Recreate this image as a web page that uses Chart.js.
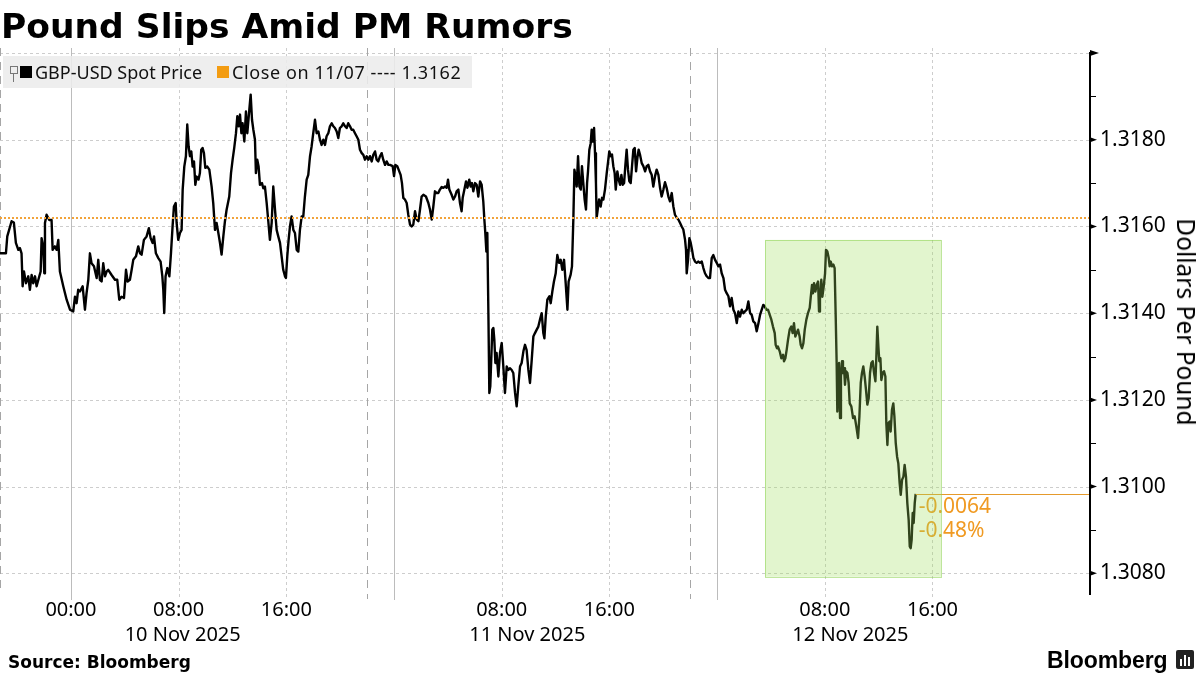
<!DOCTYPE html>
<html>
<head>
<meta charset="utf-8">
<script src="https://cdn.jsdelivr.net/npm/chart.js@4.4.1/dist/chart.umd.min.js"></script>
<style>
html,body{margin:0;padding:0;background:#fff;}
#wrap{position:relative;width:1200px;height:675px;overflow:hidden;background:#fff;}
#c{position:absolute;left:0;top:0;}
.t{position:absolute;white-space:nowrap;color:#000;}
#title{left:1px;top:9px;font:bold 34.5px "DejaVu Sans";line-height:34px;}
#legend{position:absolute;left:3px;top:56px;width:469px;height:32px;background:rgba(236,236,236,0.88);}
.sq{position:absolute;width:12px;height:12px;}
.lt{position:absolute;top:4px;font:18px "Noto Sans";line-height:24px;color:#111;white-space:nowrap;}
#source{left:8px;top:654px;font:bold 17px "DejaVu Sans";line-height:17px;}
#bbg{left:1047px;top:648px;font:bold 23px "Liberation Sans";line-height:24px;letter-spacing:-0.1px;}
#ytitle{left:1186px;top:322px;font:24.5px "Noto Sans";line-height:26px;transform:translate(-50%,-50%) rotate(90deg);}
</style>
</head>
<body>
<div id="wrap">
  <canvas id="c" width="1200" height="675"></canvas>
  <div class="t" id="title">Pound Slips Amid PM Rumors</div>
  <div id="legend">
    <div style="position:absolute;left:7px;top:10px;width:6px;height:6px;border:1px solid #777;"></div>
    <div style="position:absolute;left:10px;top:18px;width:1px;height:8px;background:#777;"></div>
    <div class="sq" style="left:17px;top:10px;background:#000;"></div>
    <div class="lt" style="left:32px;">GBP-USD Spot Price</div>
    <div class="sq" style="left:214px;top:10px;background:#f39c12;"></div>
    <div class="lt" style="left:229px;letter-spacing:0.6px;">Close on 11/07 ---- 1.3162</div>
  </div>
  <div class="t" id="ytitle">Dollars Per Pound</div>
  <div class="t" id="source">Source: Bloomberg</div>
  <div class="t" id="bbg">Bloomberg</div>
  <div style="position:absolute;left:1176px;top:650px;width:18px;height:19px;background:#222;border-radius:2px;">
    <div style="position:absolute;left:4px;top:9px;width:2px;height:7px;background:#fff;"></div>
    <div style="position:absolute;left:8px;top:5px;width:2px;height:11px;background:#fff;"></div>
    <div style="position:absolute;left:12px;top:7px;width:2px;height:9px;background:#fff;"></div>
  </div>
</div>
<script>
// ---- data (hours relative to 10 Nov 2025 00:00, GBP-USD spot) ----
const hours = [
-5.27,-4.83,-4.73,-4.41,-4.24,-4.09,-3.91,-3.79,-3.67,-3.59,
-3.49,-3.34,-3.17,-3.05,-2.92,-2.80,-2.67,-2.55,-2.35,-2.25,
-2.18,-2.06,-1.98,-1.93,-1.81,-1.61,-1.44,-1.36,-1.19,-1.06,
-0.94,-0.82,-0.57,-0.32,-0.07,0.17,0.30,0.42,0.54,0.67,
0.87,1.04,1.16,1.29,1.41,1.53,1.71,1.91,2.03,2.15,
2.28,2.40,2.53,2.65,2.77,3.02,3.27,3.44,3.59,3.76,
3.94,4.09,4.21,4.38,4.51,4.63,4.83,5.00,5.13,5.25,
5.42,5.62,5.79,5.92,6.07,6.17,6.31,6.49,6.66,6.79,
6.86,6.93,7.03,7.16,7.31,7.43,7.55,7.65,7.78,7.85,
7.97,8.10,8.22,8.30,8.42,8.54,8.64,8.74,8.84,8.94,
9.04,9.14,9.24,9.34,9.48,9.58,9.68,9.78,9.88,9.98,
10.13,10.28,10.45,10.57,10.70,10.82,10.95,11.07,11.19,11.32,
11.44,11.56,11.76,11.89,12.01,12.13,12.26,12.36,12.46,12.56,
12.66,12.75,12.88,13.00,13.10,13.25,13.35,13.45,13.55,13.67,
13.74,13.84,13.94,14.04,14.19,14.29,14.41,14.54,14.66,14.78,
14.91,15.03,15.16,15.28,15.40,15.53,15.65,15.77,15.90,15.97,
16.07,16.17,16.27,16.39,16.52,16.64,16.77,16.89,17.01,17.14,
17.26,17.38,17.51,17.63,17.76,17.88,18.00,18.13,18.25,18.38,
18.50,18.62,18.75,18.87,18.99,19.12,19.24,19.37,19.49,19.61,
19.74,19.86,19.98,20.11,20.23,20.36,20.48,20.60,20.73,20.85,
20.97,21.10,21.22,21.35,21.47,21.60,21.72,21.84,21.97,22.09,
22.21,22.34,22.46,22.59,22.71,22.83,22.96,23.08,23.20,23.33,
23.45,23.58,
23.70,23.90,24.00,24.10,24.24,24.39,24.49,24.59,24.69,24.81,
24.94,25.06,25.19,25.31,25.43,25.56,25.68,25.81,25.93,26.05,
26.18,26.37,26.55,26.67,26.80,26.92,27.04,27.17,27.29,27.41,
27.54,27.66,27.79,27.91,28.01,28.11,28.28,28.41,28.53,28.65,
28.78,28.90,29.02,29.10,29.20,29.35,29.45,29.59,29.69,29.79,
29.89,30.02,30.14,30.26,30.39,30.51,30.63,30.71,30.78,30.86,
30.93,31.01,31.08,31.15,31.23,31.30,31.38,31.45,31.53,31.62,
31.75,31.87,32.00,32.12,32.24,32.37,32.49,32.62,32.74,32.86,
32.99,33.11,33.23,33.36,33.48,33.61,33.73,33.85,33.98,34.10,
34.23,34.35,34.47,34.60,34.72,34.84,34.97,35.09,35.17,35.27,
35.39,35.54,35.64,35.76,35.88,36.01,36.13,36.26,36.38,36.50,
36.63,36.75,36.88,36.97,37.12,37.22,37.32,37.40,37.49,37.57,
37.67,37.77,37.87,37.96,38.06,38.16,38.26,38.34,38.41,38.51,
38.61,38.68,38.76,38.86,38.93,39.00,39.05,39.13,39.23,39.35,
39.45,39.55,39.67,39.80,39.92,39.99,40.09,40.19,40.29,40.39,
40.47,40.59,40.69,40.79,40.89,40.99,41.09,41.18,41.28,41.38,
41.48,41.58,41.68,41.78,41.88,41.98,42.08,42.17,42.27,42.40,
42.52,42.65,42.77,42.89,43.02,43.14,43.26,43.39,43.51,43.64,
43.76,43.88,44.01,44.13,44.25,44.38,44.50,44.63,44.75,44.87,
45.00,45.12,45.25,45.37,45.49,45.62,45.69,45.74,45.84,45.94,
46.04,46.14,46.24,46.36,46.48,46.61,46.73,46.86,46.98,47.10,
47.23,47.35,47.47,47.60,47.72,47.85,47.97,48.09,48.22,48.34,
48.47,48.59,48.71,48.84,48.96,49.08,49.21,49.33,49.46,49.58,
49.70,49.83,49.95,50.07,50.20,50.32,50.45,50.57,50.69,50.82,
50.94,51.07,51.19,
51.43,51.53,51.66,51.78,51.91,52.03,52.15,52.28,52.35,52.45,
52.52,52.65,52.77,52.90,52.97,53.07,53.17,53.27,53.39,53.51,
53.61,53.71,53.81,53.91,54.01,54.13,54.21,54.31,54.41,54.51,
54.63,54.75,54.88,54.95,55.05,55.12,55.20,55.30,55.40,55.50,
55.57,55.64,55.74,55.82,55.92,56.02,56.09,56.19,56.29,56.36,
56.44,56.54,56.64,56.73,56.81,56.88,56.93,57.01,57.06,57.13,
57.20,57.28,57.35,57.43,57.50,57.58,57.68,57.77,57.85,57.97,
58.10,58.22,58.34,58.47,58.57,58.67,58.76,58.86,58.96,59.06,
59.16,59.26,59.36,59.46,59.56,59.66,59.76,59.83,59.90,59.98,
60.05,60.13,60.20,60.30,60.40,60.50,60.57,60.65,60.72,60.82,
60.89,60.99,61.09,61.17,61.27,61.37,61.46,61.56,61.64,61.74,
61.84,61.93,62.03,62.13,62.23,62.31,62.38,62.45,62.53,62.60,
62.68,62.75
];
const prices = [
1.31538,1.31538,1.31577,1.31612,1.31609,1.31562,1.31546,1.31550,1.31538,1.31462,
1.31496,1.31469,1.31485,1.31454,1.31488,1.31469,1.31485,1.31462,1.31485,1.31496,
1.31573,1.31554,1.31492,1.31608,1.31627,1.31615,1.31615,1.31546,1.31554,1.31546,
1.31569,1.31496,1.31462,1.31431,1.31408,1.31404,1.31438,1.31423,1.31454,1.31450,
1.31462,1.31408,1.31446,1.31477,1.31538,1.31515,1.31508,1.31481,1.31523,1.31477,
1.31473,1.31515,1.31485,1.31496,1.31500,1.31488,1.31477,1.31477,1.31431,1.31438,
1.31435,1.31500,1.31473,1.31477,1.31500,1.31523,1.31531,1.31554,1.31538,1.31535,
1.31569,1.31577,1.31596,1.31573,1.31562,1.31577,1.31538,1.31527,1.31519,1.31485,
1.31454,1.31400,1.31485,1.31504,1.31485,1.31538,1.31600,1.31646,1.31654,1.31608,
1.31569,1.31585,1.31592,1.31685,1.31738,1.31762,1.31835,1.31785,1.31762,1.31773,
1.31738,1.31750,1.31696,1.31715,1.31708,1.31723,1.31777,1.31781,1.31769,1.31735,
1.31738,1.31731,1.31692,1.31654,1.31592,1.31608,1.31585,1.31562,1.31535,1.31577,
1.31612,1.31638,1.31669,1.31723,1.31754,1.31781,1.31815,1.31854,1.31831,1.31858,
1.31815,1.31838,1.31796,1.31865,1.31815,1.31869,1.31904,1.31846,1.31823,1.31800,
1.31723,1.31754,1.31738,1.31696,1.31700,1.31688,1.31692,1.31654,1.31612,1.31569,
1.31608,1.31692,1.31638,1.31592,1.31577,1.31562,1.31531,1.31500,1.31485,1.31481,
1.31531,1.31569,1.31600,1.31623,1.31592,1.31585,1.31546,1.31542,1.31592,1.31623,
1.31623,1.31669,1.31708,1.31719,1.31762,1.31785,1.31815,1.31846,1.31815,1.31819,
1.31800,1.31788,1.31800,1.31788,1.31808,1.31815,1.31831,1.31838,1.31831,1.31827,
1.31819,1.31804,1.31827,1.31831,1.31838,1.31831,1.31827,1.31838,1.31831,1.31823,
1.31823,1.31815,1.31808,1.31800,1.31777,1.31769,1.31765,1.31754,1.31762,1.31754,
1.31762,1.31750,1.31765,1.31773,1.31754,1.31750,1.31762,1.31769,1.31754,1.31742,
1.31750,1.31742,
1.31742,1.31739,1.31716,1.31742,1.31739,1.31727,1.31719,1.31700,1.31666,1.31662,
1.31654,1.31627,1.31604,1.31600,1.31604,1.31635,1.31616,1.31612,1.31639,1.31669,
1.31673,1.31669,1.31654,1.31639,1.31616,1.31646,1.31681,1.31677,1.31677,1.31685,
1.31691,1.31689,1.31692,1.31689,1.31708,1.31685,1.31673,1.31662,1.31669,1.31681,
1.31685,1.31654,1.31635,1.31666,1.31681,1.31704,1.31689,1.31708,1.31692,1.31700,
1.31681,1.31700,1.31696,1.31669,1.31704,1.31696,1.31658,1.31616,1.31585,1.31542,
1.31585,1.31400,1.31216,1.31231,1.31300,1.31362,1.31366,1.31339,1.31285,1.31308,
1.31254,1.31308,1.31331,1.31277,1.31216,1.31277,1.31269,1.31273,1.31269,1.31262,
1.31216,1.31185,1.31231,1.31277,1.31285,1.31312,1.31327,1.31315,1.31269,1.31239,
1.31293,1.31346,1.31354,1.31362,1.31369,1.31385,1.31400,1.31354,1.31342,1.31392,
1.31431,1.31439,1.31423,1.31450,1.31473,1.31492,1.31534,1.31516,1.31523,1.31500,
1.31523,1.31470,1.31408,1.31473,1.31489,1.31508,1.31616,1.31731,1.31716,1.31692,
1.31762,1.31692,1.31685,1.31739,1.31700,1.31662,1.31639,1.31700,1.31727,1.31777,
1.31792,1.31823,1.31796,1.31827,1.31769,1.31700,1.31620,1.31639,1.31662,1.31646,
1.31666,1.31662,1.31685,1.31723,1.31754,1.31773,1.31762,1.31766,1.31739,1.31723,
1.31685,1.31727,1.31708,1.31696,1.31719,1.31696,1.31700,1.31739,1.31777,1.31731,
1.31704,1.31700,1.31739,1.31777,1.31781,1.31727,1.31758,1.31777,1.31766,1.31746,
1.31739,1.31727,1.31739,1.31742,1.31727,1.31719,1.31692,1.31716,1.31731,1.31719,
1.31689,1.31669,1.31685,1.31702,1.31689,1.31669,1.31658,1.31677,1.31646,1.31627,
1.31620,1.31616,1.31608,1.31600,1.31593,1.31569,1.31546,1.31492,1.31523,1.31573,
1.31562,1.31546,1.31527,1.31519,1.31516,1.31519,1.31516,1.31519,1.31504,1.31492,
1.31485,1.31481,1.31481,1.31527,1.31534,1.31523,1.31516,1.31508,1.31512,1.31492,
1.31481,1.31454,1.31446,1.31439,1.31416,1.31435,1.31408,1.31400,1.31377,1.31404,
1.31392,1.31408,1.31400,1.31404,1.31408,1.31427,1.31400,1.31396,1.31381,1.31377,
1.31358,1.31377,1.31396,
1.31419,1.31416,1.31408,1.31408,1.31396,1.31385,1.31369,1.31354,1.31327,1.31319,
1.31323,1.31312,1.31296,1.31304,1.31289,1.31296,1.31316,1.31339,1.31362,1.31369,
1.31354,1.31377,1.31346,1.31354,1.31362,1.31346,1.31327,1.31319,1.31331,1.31362,
1.31385,1.31400,1.31412,1.31435,1.31465,1.31446,1.31469,1.31450,1.31465,1.31473,
1.31404,1.31431,1.31477,1.31438,1.31462,1.31492,1.31546,1.31542,1.31527,1.31508,
1.31519,1.31508,1.31512,1.31504,1.31392,1.31285,1.31173,1.31254,1.31285,1.31158,
1.31254,1.31289,1.31262,1.31273,1.31235,1.31266,1.31262,1.31239,1.31192,1.31185,
1.31158,1.31162,1.31139,1.31112,1.31162,1.31239,1.31262,1.31277,1.31254,1.31223,
1.31189,1.31204,1.31262,1.31285,1.31289,1.31262,1.31243,1.31300,1.31369,1.31323,
1.31289,1.31296,1.31246,1.31262,1.31266,1.31254,1.31146,1.31096,1.31146,1.31150,
1.31127,1.31177,1.31192,1.31162,1.31100,1.31069,1.31054,1.31008,1.30981,1.31016,
1.31023,1.31050,1.31023,1.30962,1.30923,1.30862,1.30858,1.30877,1.30939,1.30916,
1.30962,1.30983
];
const closeRef = 1.3162;                 // Close on 11/07
const xRange = [-5.27, 75.7];            // hours
const yRange = [1.3075, 1.3200];
const yTicks = [1.3080, 1.3100, 1.3120, 1.3140, 1.3160, 1.3180, 1.3200];
const yMinorTicks = [1.3090, 1.3110, 1.3130, 1.3150, 1.3170, 1.3190];
const timeTickHours = [0, 8, 16, 24, 32, 40, 48, 56, 64];
const timeTickLabels = ['00:00','08:00','16:00','','08:00','16:00','','08:00','16:00'];
const dayStartHours = [0, 24, 48];
const sessionHours = [22, 46];
const dateLabels = ['10 Nov 2025', '11 Nov 2025', '12 Nov 2025'];
const dateLabelHours = [8.3, 33.9, 57.9];
const highlightHours = [51.56, 64.64];
const highlightPrices = [1.31569, 1.30792];

const points = hours.map((h, i) => ({x: h, y: prices[i]}));

function vline(ctx, x, y1, y2){ ctx.beginPath(); ctx.moveTo(x, y1); ctx.lineTo(x, y2); ctx.stroke(); }
function hline(ctx, y, x1, x2){ ctx.beginPath(); ctx.moveTo(x1, y); ctx.lineTo(x2, y); ctx.stroke(); }

const annot = {
  id: 'annot',
  beforeDatasetsDraw(chart){
    const {ctx, chartArea: a, scales: {x, y}} = chart;
    ctx.save();
    ctx.lineWidth = 1;
    ctx.strokeStyle = '#cdcdcd';
    ctx.setLineDash([3, 3]);
    yTicks.forEach(v => hline(ctx, Math.round(y.getPixelForValue(v)) + 0.5, a.left, a.right));
    timeTickHours.forEach(h => {
      if (dayStartHours.includes(h)) return;
      vline(ctx, Math.round(x.getPixelForValue(h)) + 0.5, a.top - 5, a.bottom + 4);
    });
    ctx.setLineDash([]);
    ctx.strokeStyle = '#bcbcbc';
    dayStartHours.forEach(h => vline(ctx, Math.round(x.getPixelForValue(h)) + 0.5, a.top - 5, a.bottom + 5));
    ctx.setLineDash([8, 6]);
    ctx.strokeStyle = '#a6a6a6';
    sessionHours.forEach(h => vline(ctx, Math.round(x.getPixelForValue(h)) + 0.5, a.top - 5, a.bottom + 4));
    vline(ctx, a.left + 0.5, a.top - 5, a.bottom - 5);
    ctx.restore();
  },
  afterDatasetsDraw(chart){
    const {ctx, chartArea: a, scales: {x, y}} = chart;
    ctx.save();
    const yr = y.getPixelForValue(closeRef);
    ctx.strokeStyle = '#f2a33a';
    ctx.lineWidth = 2;
    ctx.setLineDash([2, 2]);
    hline(ctx, Math.round(yr), a.left, a.right);
    ctx.setLineDash([]);
    const lastH = hours[hours.length - 1], lastP = prices[prices.length - 1];
    const lx = x.getPixelForValue(lastH), ly = Math.round(y.getPixelForValue(lastP)) + 0.5;
    ctx.strokeStyle = '#e59a2c';
    ctx.lineWidth = 1;
    hline(ctx, ly, lx, a.right);
    const chg = lastP - closeRef;
    const pct = chg / closeRef * 100;
    ctx.fillStyle = '#f09a22';
    ctx.font = '21px "Noto Sans"';
    ctx.textAlign = 'left';
    ctx.textBaseline = 'middle';
    ctx.fillText(chg.toFixed(4), lx + 3, ly + 13);
    ctx.fillText(pct.toFixed(2) + '%', lx + 3, ly + 37);
    const bx1 = x.getPixelForValue(highlightHours[0]), bx2 = x.getPixelForValue(highlightHours[1]);
    const by1 = y.getPixelForValue(highlightPrices[0]), by2 = y.getPixelForValue(highlightPrices[1]);
    ctx.fillStyle = 'rgba(158,222,92,0.30)';
    ctx.fillRect(bx1, by1, bx2 - bx1, by2 - by1);
    ctx.strokeStyle = 'rgba(140,210,80,0.55)';
    ctx.lineWidth = 1;
    ctx.strokeRect(Math.round(bx1) + 0.5, Math.round(by1) + 0.5, Math.round(bx2 - bx1), Math.round(by2 - by1));
    const ax = a.right;
    ctx.strokeStyle = '#000';
    ctx.fillStyle = '#000';
    ctx.lineWidth = 2;
    vline(ctx, ax, a.top - 1, a.bottom);
    yTicks.forEach((v, i) => {
      const py = y.getPixelForValue(v);
      const w = (i === yTicks.length - 1) ? 9 : 7;
      const hh = (i === yTicks.length - 1) ? 3 : 2.5;
      ctx.beginPath();
      ctx.moveTo(ax, py - hh); ctx.lineTo(ax + w, py); ctx.lineTo(ax, py + hh); ctx.closePath();
      ctx.fill();
    });
    ctx.lineWidth = 1;
    yMinorTicks.forEach(v => hline(ctx, Math.round(y.getPixelForValue(v)) + 0.5, ax, ax + 6));
    ctx.fillStyle = '#000';
    ctx.font = '20px "Noto Sans"';
    ctx.textAlign = 'center';
    ctx.textBaseline = 'middle';
    dateLabels.forEach((t, i) => ctx.fillText(t, x.getPixelForValue(dateLabelHours[i]), 635));
    ctx.restore();
  }
};

new Chart(document.getElementById('c'), {
  type: 'line',
  data: {
    datasets: [{
      label: 'GBP-USD Spot Price',
      data: points,
      borderColor: '#000',
      borderWidth: 2.4,
      pointRadius: 0,
      tension: 0,
      borderJoinStyle: 'round',
      fill: false
    }]
  },
  options: {
    responsive: false,
    animation: false,
    devicePixelRatio: 1,
    layout: {padding: {top: 53, left: 0, right: 0, bottom: 0}},
    plugins: {legend: {display: false}, tooltip: {enabled: false}, title: {display: false}},
    scales: {
      x: {
        type: 'linear',
        min: xRange[0], max: xRange[1],
        afterBuildTicks: s => { s.ticks = timeTickHours.map(v => ({value: v})); },
        afterFit: s => { s.height = 80; },
        grid: {display: false, drawTicks: false},
        border: {display: false},
        ticks: {
          autoSkip: false, maxRotation: 0, padding: 3,
          color: '#000', font: {family: 'Noto Sans', size: 20},
          callback: v => { const i = timeTickHours.indexOf(v); return i >= 0 ? timeTickLabels[i] : ''; }
        }
      },
      y: {
        type: 'linear',
        position: 'right',
        min: yRange[0], max: yRange[1],
        afterBuildTicks: s => { s.ticks = yTicks.map(v => ({value: v})); },
        afterFit: s => { s.width = 110; },
        grid: {display: false, drawTicks: false},
        border: {display: false},
        ticks: {
          padding: 10, color: '#000', font: {family: 'Noto Sans', size: 21},
          callback: v => (v >= 1.31995 ? '' : v.toFixed(4))
        }
      }
    }
  },
  plugins: [annot]
});
</script>
</body>
</html>
